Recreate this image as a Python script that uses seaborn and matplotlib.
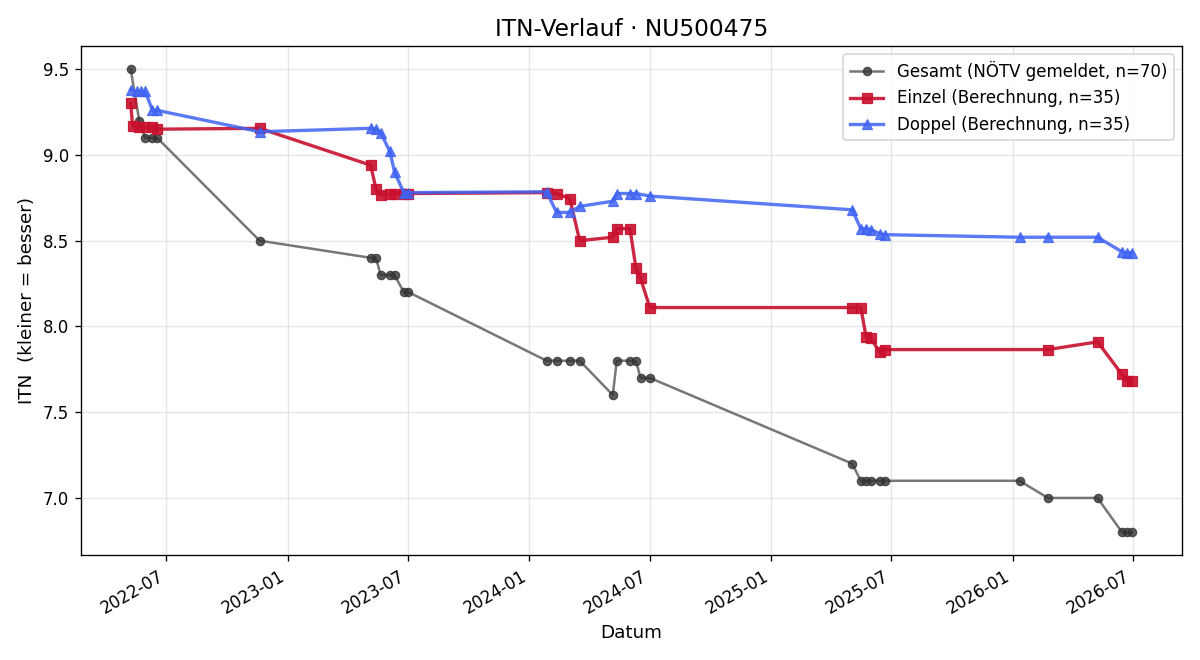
import matplotlib
matplotlib.use("Agg")
import matplotlib.pyplot as plt
import matplotlib.dates as mdates
import seaborn as sns
import pandas as pd

# Gesamt (gemeldet)
gesamt_dates = ["2022-05-08", "2022-05-21", "2022-05-30", "2022-06-10", "2022-06-17",
                "2022-11-19", "2023-05-06", "2023-05-14", "2023-05-21", "2023-06-04",
                "2023-06-11", "2023-06-25", "2023-07-02", "2024-01-27", "2024-02-11",
                "2024-03-02", "2024-03-17", "2024-05-06", "2024-05-12", "2024-06-01",
                "2024-06-10", "2024-06-17", "2024-07-01", "2025-05-03", "2025-05-16",
                "2025-05-24", "2025-05-31", "2025-06-14", "2025-06-21", "2026-01-11",
                "2026-02-23", "2026-05-09", "2026-06-15", "2026-06-22", "2026-06-30"]
gesamt_itn = [9.5, 9.2, 9.1, 9.1, 9.1,
              8.5, 8.4, 8.4, 8.3, 8.3,
              8.3, 8.2, 8.2, 7.8, 7.8,
              7.8, 7.8, 7.6, 7.8, 7.8,
              7.8, 7.7, 7.7, 7.2, 7.1,
              7.1, 7.1, 7.1, 7.1, 7.1,
              7.0, 7.0, 6.8, 6.8, 6.8]

# Einzel
einzel_dates = ["2022-05-08", "2022-05-11", "2022-05-21", "2022-05-30", "2022-06-10",
                "2022-06-17", "2022-11-19", "2023-05-06", "2023-05-14", "2023-05-21",
                "2023-06-04", "2023-06-11", "2023-06-25", "2023-07-02", "2024-01-27",
                "2024-02-11", "2024-03-02", "2024-03-17", "2024-05-06", "2024-05-12",
                "2024-06-01", "2024-06-10", "2024-06-17", "2024-07-01", "2025-05-03",
                "2025-05-16", "2025-05-24", "2025-05-31", "2025-06-14", "2025-06-21",
                "2026-02-23", "2026-05-09", "2026-06-15", "2026-06-22", "2026-06-30"]
einzel_itn = [9.30, 9.17, 9.16, 9.16, 9.16,
              9.15, 9.155, 8.94, 8.80, 8.765,
              8.77, 8.775, 8.775, 8.775, 8.78,
              8.775, 8.745, 8.50, 8.52, 8.57,
              8.57, 8.34, 8.28, 8.11, 8.11,
              8.11, 7.94, 7.93, 7.85, 7.865,
              7.865, 7.91, 7.72, 7.68, 7.68]

# Doppel
doppel_dates = ["2022-05-08", "2022-05-17", "2022-05-24", "2022-05-30", "2022-06-10",
                "2022-06-17", "2022-11-19", "2023-05-06", "2023-05-14", "2023-05-21",
                "2023-06-04", "2023-06-11", "2023-06-25", "2023-07-02", "2024-01-27",
                "2024-02-11", "2024-03-02", "2024-03-17", "2024-05-06", "2024-05-12",
                "2024-06-01", "2024-06-10", "2024-07-01", "2025-05-03", "2025-05-16",
                "2025-05-24", "2025-05-31", "2025-06-14", "2025-06-21", "2026-01-11",
                "2026-02-23", "2026-05-09", "2026-06-15", "2026-06-22", "2026-06-30"]
doppel_itn = [9.38, 9.37, 9.37, 9.37, 9.26,
              9.26, 9.135, 9.155, 9.15, 9.13,
              9.02, 8.90, 8.78, 8.78, 8.785,
              8.665, 8.665, 8.70, 8.73, 8.775,
              8.775, 8.775, 8.76, 8.68, 8.57,
              8.57, 8.565, 8.54, 8.535, 8.52,
              8.52, 8.52, 8.435, 8.43, 8.43]

g = pd.DataFrame({"Datum": pd.to_datetime(gesamt_dates), "ITN": gesamt_itn})
e = pd.DataFrame({"Datum": pd.to_datetime(einzel_dates), "ITN": einzel_itn})
d = pd.DataFrame({"Datum": pd.to_datetime(doppel_dates), "ITN": doppel_itn})

fig, ax = plt.subplots(figsize=(10, 5.5), dpi=120)

sns.lineplot(data=g, x="Datum", y="ITN", ax=ax, color="#555555", alpha=0.8,
             linewidth=1.5, marker="o", markersize=5, markerfacecolor="#333333",
             markeredgecolor="#333333", estimator=None, sort=False,
             label="Gesamt (NÖTV gemeldet, n=70)")
sns.lineplot(data=e, x="Datum", y="ITN", ax=ax, color="#c8102e", alpha=0.9,
             linewidth=2, marker="s", markersize=6, markeredgecolor="#c8102e",
             estimator=None, sort=False, label="Einzel (Berechnung, n=35)")
sns.lineplot(data=d, x="Datum", y="ITN", ax=ax, color="#3f63f2", alpha=0.85,
             linewidth=2, marker="^", markersize=6, markeredgecolor="#3f63f2",
             estimator=None, sort=False, label="Doppel (Berechnung, n=35)")

ax.set_title("ITN-Verlauf · NU500475", fontsize=14)
ax.set_xlabel("Datum", fontsize=11)
ax.set_ylabel("ITN  (kleiner = besser)", fontsize=11)
ax.grid(True, alpha=0.3)
ax.xaxis.set_major_locator(mdates.MonthLocator(bymonth=[1, 7]))
ax.xaxis.set_major_formatter(mdates.DateFormatter("%Y-%m"))
ax.legend(loc="upper right")
fig.autofmt_xdate()
fig.tight_layout()
fig.savefig("out.png")
